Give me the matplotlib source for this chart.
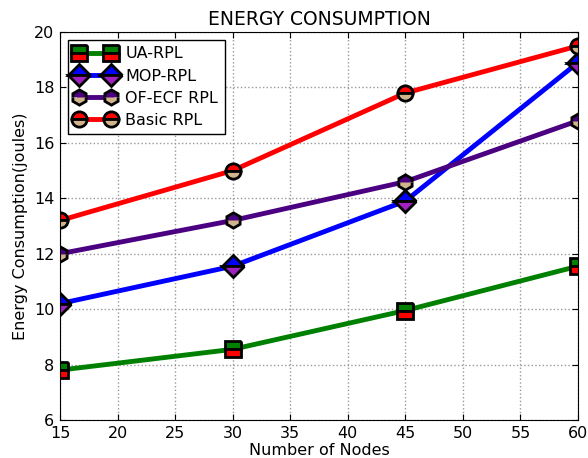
import matplotlib
matplotlib.use('Agg')
import matplotlib.pyplot as plt

nodes = [15, 30, 45, 60]
ua_rpl = [7.8, 8.55, 9.95, 11.55]
mop_rpl = [10.2, 11.55, 13.9, 18.9]
ofecf_rpl = [12.0, 13.2, 14.6, 16.8]
basic_rpl = [13.2, 15.0, 17.8, 19.5]

fig = plt.figure(figsize=(5.88, 4.58), dpi=100)
ax = fig.add_axes([0.102, 0.083, 0.881, 0.847])

common = dict(lw=3.5, markersize=11, markeredgewidth=2, markeredgecolor='black', fillstyle='top')
ax.plot(nodes, ua_rpl, color='green', marker='s', markerfacecoloralt='red', label='UA-RPL', **common)
ax.plot(nodes, mop_rpl, color='blue', marker='D', markerfacecoloralt='#a020c0', label='MOP-RPL', **common)
ax.plot(nodes, ofecf_rpl, color='#4b0082', marker='h', markerfacecoloralt='#d2b48c', label='OF-ECF RPL', **common)
ax.plot(nodes, basic_rpl, color='red', marker='o', markerfacecoloralt='#d2b48c', label='Basic RPL', **common)

ax.set_xlim(15, 60)
ax.set_ylim(6, 20)
ax.set_xticks(range(15, 61, 5))
ax.set_yticks(range(6, 21, 2))
ax.tick_params(direction='in', labelsize=11.5, length=4, top=True, right=True, pad=4)
ax.grid(True, linestyle=':', color='#999999', lw=1)
ax.set_xlabel('Number of Nodes', fontsize=11.5, labelpad=2)
ax.set_ylabel('Energy Consumption(joules)', fontsize=11.5, labelpad=4)
ax.set_title('ENERGY CONSUMPTION', fontsize=13.5, pad=5)
leg = ax.legend(loc='upper left', numpoints=2, fancybox=False, fontsize=11.5,
                framealpha=1, edgecolor='black', handlelength=2.6, borderpad=0.4,
                labelspacing=0.45, handletextpad=0.6)
leg.get_frame().set_linewidth(1)

fig.savefig('out.png', dpi=100)
